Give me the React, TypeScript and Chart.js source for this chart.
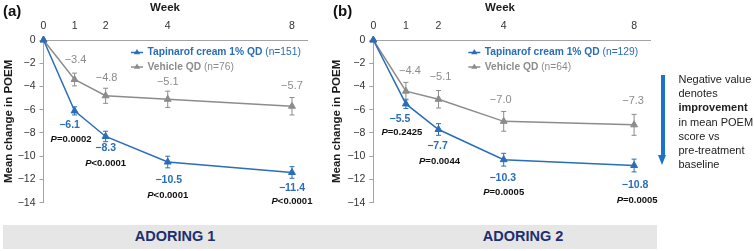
import React, { useEffect, useRef } from 'react';
import { Chart, registerables } from 'chart.js';

Chart.register(...registerables);

const FF = '"Liberation Sans", Arial, Helvetica, sans-serif';

// ---------- data ----------
const weeks = [0, 1, 2, 4, 8];
const xTicks = [0, 1, 2, 4, 8];
const yMin = -14;
const yMax = 0;
const yStep = 2;

const seriesNames = ['Tapinarof cream 1% QD', 'Vehicle QD'];
const nA = [151, 76];
const nB = [129, 64];

const tapA = [0, -6.1, -8.3, -10.5, -11.4];
const tapAErr = [0, 0.35, 0.45, 0.5, 0.5];
const vehA = [0, -3.4, -4.8, -5.1, -5.7];
const vehAErr = [0, 0.55, 0.65, 0.7, 0.75];
const pA = ['', '=0.0002', '<0.0001', '<0.0001', '<0.0001'];

const tapB = [0, -5.5, -7.7, -10.3, -10.8];
const tapBErr = [0, 0.4, 0.5, 0.55, 0.55];
const vehB = [0, -4.4, -5.1, -7.0, -7.3];
const vehBErr = [0, 0.75, 0.75, 0.85, 0.9];
const pB = ['', '=0.2425', '=0.0044', '=0.0005', '=0.0005'];

// ---------- styles ----------
const BLUE = '#2a6db8';
const GREY = '#8c8c8c';
const AXIS = '#a3a3a3';
const TICK = '#333333';

const styleA = {
  canvasLeft: 0,
  width: 330,
  padRight: 22.5,
  yWidth: 43.5,
  titlePad: 1.6,
  weekX: 165,
  legendX: 131,
  tapDx: [0, -5, 0, 1, 0],
  tapDy: [0, 14, 12, 18, 16],
  pDx: [0, -3.5, 0, 0, 0],
  pDy: [0, 28, 27, 33, 29],
  vehDx: [0, 1, 1, 0, 0],
  vehDy: [0, -20, -18, -17, -20],
};
const styleB = {
  canvasLeft: 330,
  width: 330,
  padRight: 9.6,
  yWidth: 43.3,
  titlePad: 0,
  weekX: 170,
  legendX: 138.3,
  tapDx: [0, -6, -1, -1, 1],
  tapDy: [0, 15, 17, 18, 19.5],
  pDx: [0, -4, 1, 0, 3],
  pDy: [0, 28, 32, 33, 34.5],
  vehDx: [0, 4, 2, -3, -1],
  vehDy: [0, -20, -22, -21, -24],
};

const fmt = (v: number) => (v === 0 ? '0' : '\u2212' + Math.abs(v).toFixed(1));

function tri(ctx: CanvasRenderingContext2D, cx: number, cy: number, r: number) {
  ctx.beginPath();
  for (let k = 0; k < 3; k++) {
    const a = (k * 2 * Math.PI) / 3;
    const px = cx + Math.sin(a) * r;
    const py = cy - Math.cos(a) * r;
    if (k === 0) ctx.moveTo(px, py);
    else ctx.lineTo(px, py);
  }
  ctx.closePath();
}

function makePlugin(cfg: any) {
  return {
    id: 'panelDecor',
    beforeDatasetsDraw(chart: any) {
      const ctx = chart.ctx as CanvasRenderingContext2D;
      const xs = chart.scales.x;
      const ys = chart.scales.y;
      cfg.series.forEach((s: any) => {
        ctx.save();
        ctx.strokeStyle = s.color;
        ctx.lineWidth = 1;
        weeks.forEach((w, i) => {
          const e = s.err[i];
          if (!e) return;
          const x = xs.getPixelForValue(w);
          const y1 = ys.getPixelForValue(s.values[i] + e);
          const y2 = ys.getPixelForValue(s.values[i] - e);
          ctx.beginPath();
          ctx.moveTo(x, y1);
          ctx.lineTo(x, y2);
          ctx.moveTo(x - 2.5, y1);
          ctx.lineTo(x + 2.5, y1);
          ctx.moveTo(x - 2.5, y2);
          ctx.lineTo(x + 2.5, y2);
          ctx.stroke();
        });
        ctx.restore();
      });
    },
    afterDatasetsDraw(chart: any) {
      const ctx = chart.ctx as CanvasRenderingContext2D;
      const xs = chart.scales.x;
      const ys = chart.scales.y;
      const st = cfg.style;
      ctx.save();
      ctx.textBaseline = 'middle';

      // value labels
      cfg.series.forEach((s: any) => {
        ctx.font = s.labelFont;
        ctx.fillStyle = s.color;
        ctx.textAlign = 'center';
        weeks.forEach((w, i) => {
          if (i === 0) return;
          const x = xs.getPixelForValue(w);
          const y = ys.getPixelForValue(s.values[i]);
          ctx.fillText(fmt(s.values[i]), x + s.dx[i], y + s.dy[i]);
        });
      });

      // p-values
      const tap = cfg.series[0];
      weeks.forEach((w, i) => {
        const txt = cfg.p[i];
        if (!txt) return;
        const x = xs.getPixelForValue(w) + st.pDx[i];
        const y = ys.getPixelForValue(tap.values[i]) + st.pDy[i];
        ctx.font = `italic bold 9.5px ${FF}`;
        const wP = ctx.measureText('P').width;
        ctx.font = `bold 9.5px ${FF}`;
        const wR = ctx.measureText(txt).width;
        const x0 = x - (wP + wR) / 2;
        ctx.fillStyle = '#111111';
        ctx.textAlign = 'left';
        ctx.font = `italic bold 9.5px ${FF}`;
        ctx.fillText('P', x0, y);
        ctx.font = `bold 9.5px ${FF}`;
        ctx.fillText(txt, x0 + wP, y);
      });

      // axis title "Week"
      ctx.font = `bold 11.5px ${FF}`;
      ctx.fillStyle = '#1a1a1a';
      ctx.textAlign = 'center';
      ctx.fillText('Week', st.weekX, 8);

      // legend
      const rows = [52.5, 67];
      cfg.series.forEach((s: any, k: number) => {
        const lx = st.legendX;
        const ly = rows[k];
        ctx.strokeStyle = s.color;
        ctx.lineWidth = 1.5;
        ctx.beginPath();
        ctx.moveTo(lx, ly);
        ctx.lineTo(lx + 12, ly);
        ctx.stroke();
        ctx.fillStyle = s.color;
        tri(ctx, lx + 6, ly, 3.6);
        ctx.fill();
        ctx.textAlign = 'left';
        ctx.font = `bold 10.25px ${FF}`;
        const tx = lx + 16.5;
        ctx.fillText(s.name, tx, ly);
        const wb = ctx.measureText(s.name).width;
        ctx.font = `10.25px ${FF}`;
        ctx.fillText(` (n=${s.n})`, tx + wb, ly);
      });
      ctx.restore();
    },
  };
}

function Panel({ cfg }: { cfg: any }) {
  const ref = useRef<HTMLCanvasElement | null>(null);
  useEffect(() => {
    if (!ref.current) return;
    const st = cfg.style;
    const chart = new Chart(ref.current, {
      type: 'line',
      data: {
        datasets: cfg.series.map((s: any) => ({
          label: s.name,
          data: weeks.map((w, i) => ({ x: w, y: s.values[i] })),
          borderColor: s.color,
          backgroundColor: s.color,
          borderWidth: 1.5,
          pointStyle: 'triangle',
          pointRadius: 4,
          pointBorderWidth: 1,
          pointBackgroundColor: s.color,
          pointBorderColor: s.color,
          tension: 0,
          clip: false,
        })),
      },
      options: {
        animation: false,
        responsive: false,
        maintainAspectRatio: false,
        devicePixelRatio: 1,
        events: [],
        layout: { padding: { left: 0, top: 0, right: st.padRight, bottom: 22.3 } },
        plugins: { legend: { display: false }, tooltip: { enabled: false } },
        scales: {
          x: {
            type: 'linear',
            position: 'top',
            min: 0,
            max: 8.5,
            afterBuildTicks: (s: any) => {
              s.ticks = xTicks.map((v) => ({ value: v }));
            },
            afterFit: (s: any) => {
              s.height = 40;
            },
            grid: { display: true, drawOnChartArea: false, drawTicks: false, color: AXIS },
            border: { display: true, color: AXIS, width: 1 },
            ticks: {
              padding: 8,
              color: TICK,
              font: { family: FF, size: 10.5 },
              maxRotation: 0,
              autoSkip: false,
              callback: (v: any) => String(v),
            },
          },
          y: {
            type: 'linear',
            min: yMin,
            max: yMax,
            afterFit: (s: any) => {
              s.width = st.yWidth;
            },
            grid: { display: true, drawOnChartArea: false, drawTicks: true, tickLength: 4, color: AXIS },
            border: { display: true, color: AXIS, width: 1 },
            ticks: {
              stepSize: yStep,
              padding: 4,
              color: TICK,
              font: { family: FF, size: 10.5 },
              callback: (v: any) => (v === 0 ? '0' : '\u2212' + Math.abs(v)),
            },
            title: {
              display: true,
              text: 'Mean change in POEM',
              color: '#1a1a1a',
              font: { family: FF, size: 11.5, weight: 'bold' },
              padding: { top: st.titlePad, bottom: 0 },
            },
          },
        },
      },
      plugins: [makePlugin(cfg)],
    } as any);
    return () => chart.destroy();
  }, [cfg]);
  return (
    <canvas
      ref={ref}
      width={cfg.style.width}
      height={225}
      style={{ position: 'absolute', left: cfg.style.canvasLeft, top: 0, display: 'block' }}
    />
  );
}

const cfgA = {
  style: styleA,
  p: pA,
  series: [
    { name: seriesNames[0], n: nA[0], values: tapA, err: tapAErr, color: BLUE, labelFont: `bold 10.5px ${FF}`, dx: styleA.tapDx, dy: styleA.tapDy },
    { name: seriesNames[1], n: nA[1], values: vehA, err: vehAErr, color: GREY, labelFont: `11px ${FF}`, dx: styleA.vehDx, dy: styleA.vehDy },
  ],
};
const cfgB = {
  style: styleB,
  p: pB,
  series: [
    { name: seriesNames[0], n: nB[0], values: tapB, err: tapBErr, color: BLUE, labelFont: `bold 10.5px ${FF}`, dx: styleB.tapDx, dy: styleB.tapDy },
    { name: seriesNames[1], n: nB[1], values: vehB, err: vehBErr, color: GREY, labelFont: `11px ${FF}`, dx: styleB.vehDx, dy: styleB.vehDy },
  ],
};

const noteLines = ['Negative value', 'denotes', 'improvement', 'in mean POEM', 'score vs', 'pre-treatment', 'baseline'];

export default function App() {
  return (
    <div
      style={{
        position: 'fixed',
        left: 0,
        top: 0,
        width: 754,
        height: 251,
        overflow: 'hidden',
        background: '#ffffff',
        fontFamily: FF,
      }}
    >
      <Panel cfg={cfgA} />
      <Panel cfg={cfgB} />
      <div style={{ position: 'absolute', left: 3, top: 1.5, fontSize: 15, fontWeight: 'bold', lineHeight: '18px', color: '#111' }}>(a)</div>
      <div style={{ position: 'absolute', left: 333, top: 1.5, fontSize: 15, fontWeight: 'bold', lineHeight: '18px', color: '#111' }}>(b)</div>

      {/* banner */}
      <div style={{ position: 'absolute', left: 3, top: 225, width: 654, height: 23.5, background: '#e6e6e6' }} />
      <div style={{ position: 'absolute', left: 75, top: 225, width: 200, textAlign: 'center', lineHeight: '23.5px', fontSize: 14.5, fontWeight: 'bold', color: '#1e2f6e' }}>ADORING 1</div>
      <div style={{ position: 'absolute', left: 423, top: 225, width: 200, textAlign: 'center', lineHeight: '23.5px', fontSize: 14.5, fontWeight: 'bold', color: '#1e2f6e' }}>ADORING 2</div>

      {/* arrow annotation */}
      <div style={{ position: 'absolute', left: 661, top: 75, width: 3.7, height: 82, background: '#1b72c6' }} />
      <div
        style={{
          position: 'absolute',
          left: 658.3,
          top: 155,
          width: 0,
          height: 0,
          borderLeft: '4.5px solid transparent',
          borderRight: '4.5px solid transparent',
          borderTop: '10.5px solid #1b72c6',
        }}
      />
      <div style={{ position: 'absolute', left: 678.5, top: 72, fontSize: 11, lineHeight: '14.2px', color: '#222', whiteSpace: 'nowrap' }}>
        {noteLines.map((t, i) => (
          <div key={i} style={{ fontWeight: t === 'improvement' ? 'bold' : 'normal' }}>
            {t}
          </div>
        ))}
      </div>
    </div>
  );
}
